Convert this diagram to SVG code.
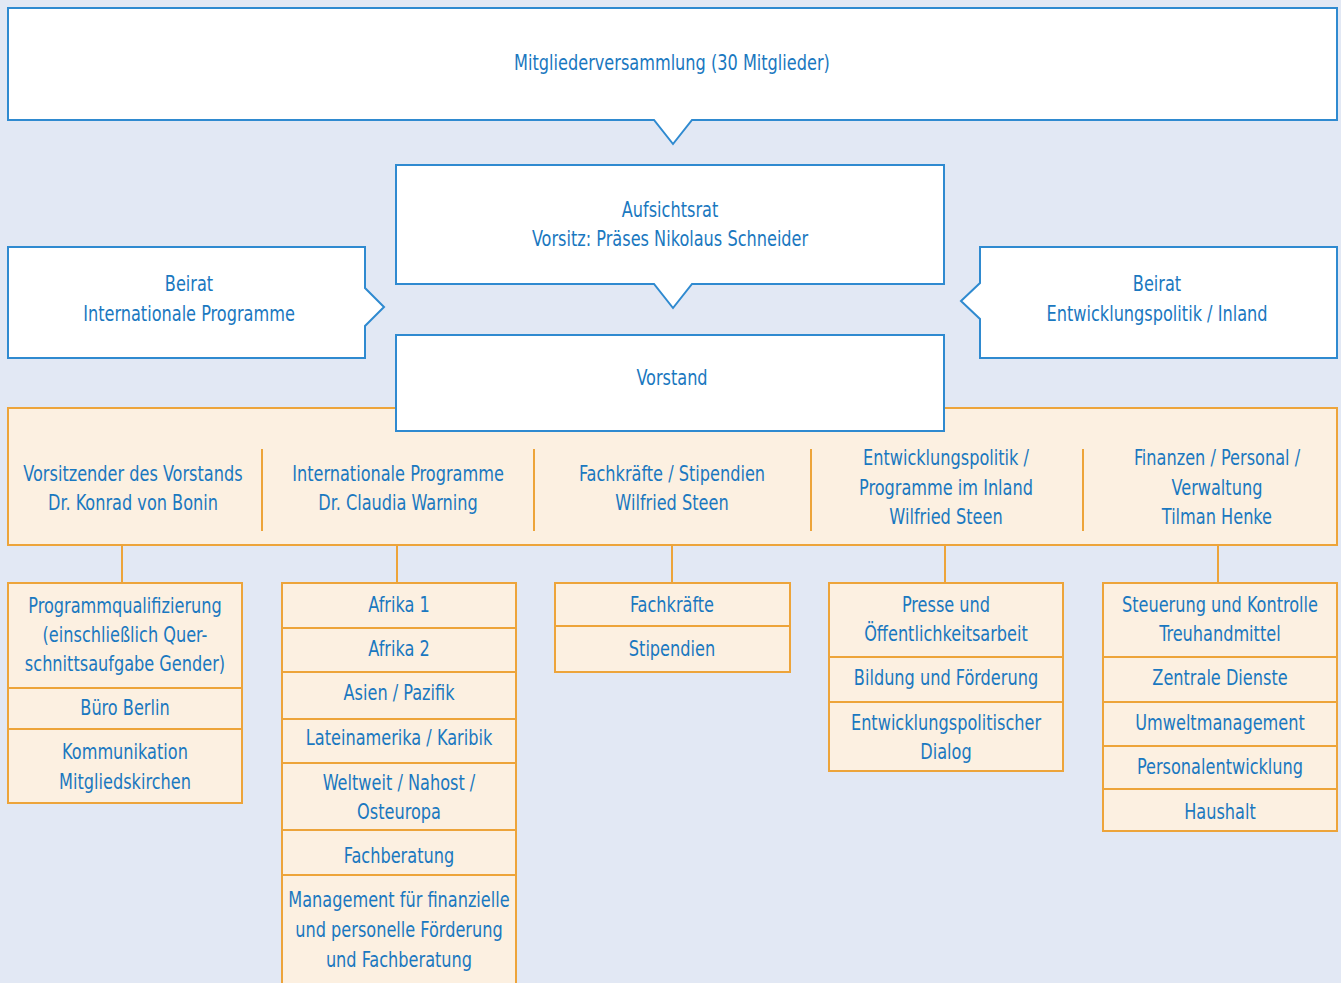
<svg xmlns="http://www.w3.org/2000/svg" width="1341" height="983" viewBox="0 0 1341 983">
<style>
.bg{fill:#e2e8f4}
.bl{fill:#ffffff;stroke:#2f8ad0;stroke-width:2}
.or{fill:#fcf0e1;stroke:#eda43a;stroke-width:2}
.ln{stroke:#eda43a;stroke-width:2;fill:none}
text{font-family:"DejaVu Sans Condensed","Liberation Sans",sans-serif;font-size:21px;fill:#1a78c0;text-anchor:middle;transform-box:fill-box;transform-origin:center;transform:scaleX(0.855)}
</style>
<rect class="bg" x="0" y="0" width="1341" height="983"/>
<g id="connectors">
<line class="ln" x1="122" y1="545" x2="122" y2="583"/>
<line class="ln" x1="397" y1="545" x2="397" y2="583"/>
<line class="ln" x1="672" y1="545" x2="672" y2="583"/>
<line class="ln" x1="945" y1="545" x2="945" y2="583"/>
<line class="ln" x1="1218" y1="545" x2="1218" y2="583"/>
</g>
<g id="mitgliederversammlung">
<path class="bl" d="M8,8 H1337 V120 H692 L673,144 L654,120 H8 Z"/>
<text x="672" y="70">Mitgliederversammlung (30 Mitglieder)</text>
</g>
<g id="aufsichtsrat">
<path class="bl" d="M396,165 H944 V284 H692 L673,308 L654,284 H396 Z"/>
<text x="670" y="217">Aufsichtsrat</text>
<text x="670" y="246">Vorsitz: Präses Nikolaus Schneider</text>
</g>
<g id="beirat-ip">
<path class="bl" d="M8,247 H365 V288 L384,307 L365,326 V358 H8 Z"/>
<text x="189" y="291">Beirat</text>
<text x="189" y="321">Internationale Programme</text>
</g>
<g id="beirat-ep">
<path class="bl" d="M980,247 H1337 V358 H980 V319 L961,301 L980,283 Z"/>
<text x="1157" y="291">Beirat</text>
<text x="1157" y="321">Entwicklungspolitik / Inland</text>
</g>
<g id="vorstand-band">
<rect class="or" x="8" y="408" width="1329" height="137"/>
<line class="ln" x1="262" y1="449" x2="262" y2="531"/>
<line class="ln" x1="534" y1="449" x2="534" y2="531"/>
<line class="ln" x1="811" y1="449" x2="811" y2="531"/>
<line class="ln" x1="1083" y1="449" x2="1083" y2="531"/>
<text x="133" y="481">Vorsitzender des Vorstands</text>
<text x="133" y="510">Dr. Konrad von Bonin</text>
<text x="398" y="481">Internationale Programme</text>
<text x="398" y="510">Dr. Claudia Warning</text>
<text x="672" y="481">Fachkräfte / Stipendien</text>
<text x="672" y="510">Wilfried Steen</text>
<text x="946" y="465">Entwicklungspolitik /</text>
<text x="946" y="495">Programme im Inland</text>
<text x="946" y="524">Wilfried Steen</text>
<text x="1217" y="465">Finanzen / Personal /</text>
<text x="1217" y="495">Verwaltung</text>
<text x="1217" y="524">Tilman Henke</text>
</g>
<g id="vorstand">
<rect class="bl" x="396" y="335" width="548" height="96"/>
<text x="672" y="385">Vorstand</text>
</g>
<g id="col1">
<rect class="or" x="8" y="583" width="234" height="105"/>
<rect class="or" x="8" y="688" width="234" height="41"/>
<rect class="or" x="8" y="729" width="234" height="74"/>
<text x="125" y="613">Programmqualifizierung</text>
<text x="125" y="642">(einschließlich Quer-</text>
<text x="125" y="671">schnittsaufgabe Gender)</text>
<text x="125" y="715">Büro Berlin</text>
<text x="125" y="759">Kommunikation</text>
<text x="125" y="789">Mitgliedskirchen</text>
</g>
<g id="col2">
<rect class="or" x="282" y="583" width="234" height="45"/>
<rect class="or" x="282" y="628" width="234" height="44"/>
<rect class="or" x="282" y="672" width="234" height="47"/>
<rect class="or" x="282" y="719" width="234" height="44"/>
<rect class="or" x="282" y="763" width="234" height="67"/>
<rect class="or" x="282" y="830" width="234" height="45"/>
<rect class="or" x="282" y="875" width="234" height="120"/>
<text x="399" y="612">Afrika 1</text>
<text x="399" y="656">Afrika 2</text>
<text x="399" y="700">Asien / Pazifik</text>
<text x="399" y="745">Lateinamerika / Karibik</text>
<text x="399" y="790">Weltweit / Nahost /</text>
<text x="399" y="819">Osteuropa</text>
<text x="399" y="863">Fachberatung</text>
<text x="399" y="907">Management für finanzielle</text>
<text x="399" y="937">und personelle Förderung</text>
<text x="399" y="967">und Fachberatung</text>
</g>
<g id="col3">
<rect class="or" x="555" y="583" width="235" height="43"/>
<rect class="or" x="555" y="626" width="235" height="46"/>
<text x="672" y="612">Fachkräfte</text>
<text x="672" y="656">Stipendien</text>
</g>
<g id="col4">
<rect class="or" x="829" y="583" width="234" height="74"/>
<rect class="or" x="829" y="657" width="234" height="45"/>
<rect class="or" x="829" y="702" width="234" height="69"/>
<text x="946" y="612">Presse und</text>
<text x="946" y="641">Öffentlichkeitsarbeit</text>
<text x="946" y="685">Bildung und Förderung</text>
<text x="946" y="730">Entwicklungspolitischer</text>
<text x="946" y="759">Dialog</text>
</g>
<g id="col5">
<rect class="or" x="1103" y="583" width="234" height="74"/>
<rect class="or" x="1103" y="657" width="234" height="45"/>
<rect class="or" x="1103" y="702" width="234" height="44"/>
<rect class="or" x="1103" y="746" width="234" height="43"/>
<rect class="or" x="1103" y="789" width="234" height="42"/>
<text x="1220" y="612">Steuerung und Kontrolle</text>
<text x="1220" y="641">Treuhandmittel</text>
<text x="1220" y="685">Zentrale Dienste</text>
<text x="1220" y="730">Umweltmanagement</text>
<text x="1220" y="774">Personalentwicklung</text>
<text x="1220" y="819">Haushalt</text>
</g>
</svg>
